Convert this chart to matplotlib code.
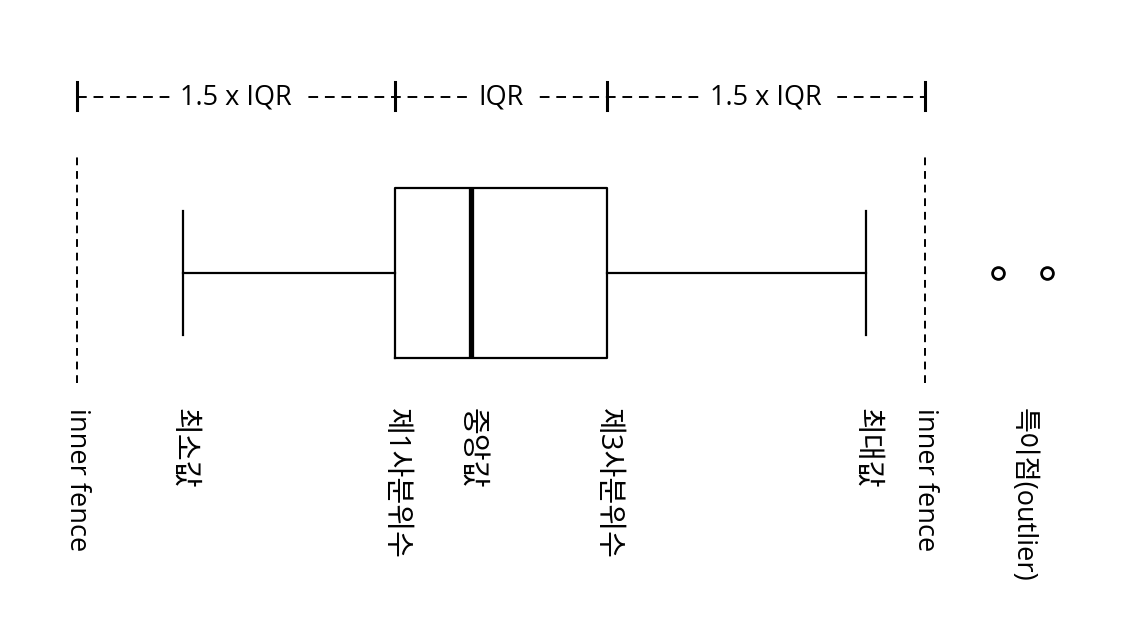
import matplotlib
matplotlib.use('Agg')
import matplotlib.pyplot as plt

plt.rcParams['font.family'] = ['Open Sans', 'Noto Sans CJK KR', 'DejaVu Sans']

# 박스플롯 요약값
q1 = 25
mediana = 32.2
q3 = 45
minimo = 5
maximo = 69.4
outliers = [81.9, 86.5]

iqr = q3 - q1
fence_baixo = q1 - 1.5 * iqr
fence_cima = q3 + 1.5 * iqr

rotulos = ['inner fence', '최소값', '제1사분위수', '중앙값',
           '제3사분위수', '최대값', 'inner fence', '특이점(outlier)']
posicoes = [fence_baixo, minimo, q1, mediana, q3, maximo, fence_cima,
            sum(outliers) / len(outliers)]
faixas = ['1.5 x IQR', 'IQR', '1.5 x IQR']

fig = plt.figure(figsize=(11.26, 6.32), dpi=100)
ax = fig.add_axes([0, 0, 1, 1])
ax.set_xlim(-12.264, 93.96)
ax.set_ylim(-2.112, 1.606)
ax.axis('off')

stats = [{'q1': q1, 'med': mediana, 'q3': q3, 'whislo': minimo,
          'whishi': maximo, 'fliers': outliers}]
ax.bxp(stats, positions=[0], widths=1.0, capwidths=0.73,
       orientation='horizontal', showfliers=True,
       boxprops=dict(color='black', linewidth=1.6),
       medianprops=dict(color='black', linewidth=3.8),
       whiskerprops=dict(color='black', linewidth=1.6),
       capprops=dict(color='black', linewidth=1.6),
       flierprops=dict(marker='o', markerfacecolor='white',
                       markeredgecolor='black', markersize=8.5,
                       markeredgewidth=2.0))

# linhas tracejadas das fences
for f in [fence_baixo, fence_cima]:
    ax.plot([f, f], [-0.647, 0.694], color='black', linestyle=(0, (4, 3)),
            linewidth=1.4)

# régua superior
y_top = 1.035
marcas = [fence_baixo, q1, q3, fence_cima]
ax.plot([fence_baixo, fence_cima], [y_top, y_top], color='black',
        linestyle=(0, (5, 3.5)), linewidth=1.4)
for m in marcas:
    ax.plot([m, m], [0.959, 1.124], color='black', linewidth=2.2)
for i, txt in enumerate(faixas):
    cx = (marcas[i] + marcas[i + 1]) / 2
    ax.text(cx, y_top, txt, fontsize=19.5, ha='center', va='center',
            bbox=dict(facecolor='white', edgecolor='none', pad=7))

for pos, txt in zip(posicoes, rotulos):
    tam = 19.5 if txt.startswith('inner') or txt.startswith('특') else 21
    ax.text(pos, -0.794, txt, fontsize=tam, rotation=270,
            ha='center', va='top')

plt.savefig('out.png', dpi=100)
